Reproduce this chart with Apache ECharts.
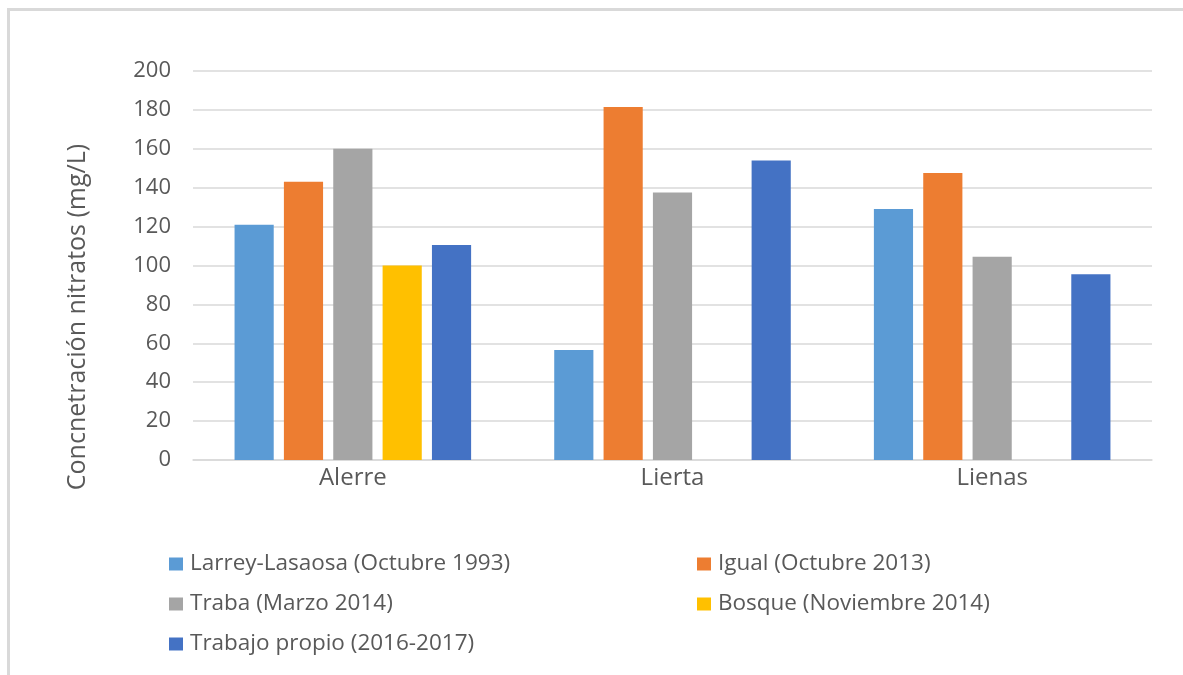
<!DOCTYPE html>
<html>
<head>
<meta charset="utf-8">
<script src="https://cdn.jsdelivr.net/npm/echarts@6/dist/echarts.min.js"></script>
<style>
html,body{margin:0;padding:0;background:#fff;}
#c{width:1183px;height:675px;}
</style>
</head>
<body>
<div id="c"></div>
<script>
const categories = ['Alerre', 'Lierta', 'Lienas'];
const seriesNames = ['Larrey-Lasaosa (Octubre 1993)', 'Igual (Octubre 2013)', 'Traba (Marzo 2014)', 'Bosque (Noviembre 2014)', 'Trabajo propio (2016-2017)'];
const larrey = [121, 56.5, 129];
const igual = [143, 181.5, 147.5];
const traba = [160, 137.5, 104.5];
const bosque = [100, null, null];
const propio = [110.5, 154, 95.5];
const colors = ['#5B9BD5', '#ED7D31', '#A5A5A5', '#FFC000', '#4472C4'];
const yTitle = 'Concnetración nitratos (mg/L)';

const FONT = 'Open Sans';
const TXT = '#595959';
const chart = echarts.init(document.getElementById('c'));
const values = [larrey, igual, traba, bosque, propio];

const legendCommon = {
  orient: 'vertical',
  top: 550,
  padding: 0,
  itemWidth: 14, itemHeight: 13, itemGap: 12,
  icon: 'rect',
  textStyle: { color: TXT, fontSize: 22.5, fontFamily: FONT, lineHeight: 28, padding: [0, 0, 0, 2] }
};

chart.setOption({
  animation: false,
  backgroundColor: '#fff',
  textStyle: { fontFamily: FONT },
  graphic: [{
    type: 'polyline',
    shape: { points: [[8.5, 700], [8.5, 9.5], [1200, 9.5]] },
    style: { stroke: '#d9d9d9', lineWidth: 3, fill: null },
    z: 10
  }, {
    type: 'text',
    x: 78, y: 317,
    rotation: Math.PI / 2,
    style: {
      text: yTitle,
      fill: TXT,
      font: '25px "Open Sans"',
      align: 'center',
      verticalAlign: 'middle'
    }
  }],
  grid: { left: 193, right: 31, top: 71, bottom: 215, containLabel: false },
  xAxis: {
    type: 'category',
    data: categories,
    axisLine: { show: true, lineStyle: { color: '#d9d9d9', width: 1.5 } },
    axisTick: { show: false },
    axisLabel: { color: TXT, fontSize: 24, fontFamily: FONT, margin: 6 }
  },
  yAxis: {
    type: 'value',
    min: 0, max: 200, interval: 20,
    axisLine: { show: false },
    axisTick: { show: false },
    axisLabel: { color: TXT, fontSize: 22, fontFamily: FONT, margin: 22 },
    splitLine: { lineStyle: { color: '#d9d9d9', width: 1.5 } }
  },
  legend: [
    Object.assign({}, legendCommon, { left: 169, data: [seriesNames[0], seriesNames[2], seriesNames[4]] }),
    Object.assign({}, legendCommon, { left: 697, data: [seriesNames[1], seriesNames[3]] })
  ],
  series: seriesNames.map((n, i) => ({
    name: n,
    type: 'bar',
    data: values[i],
    itemStyle: { color: colors[i] },
    barGap: '26%',
    barCategoryGap: '26%'
  }))
});
</script>
</body>
</html>
